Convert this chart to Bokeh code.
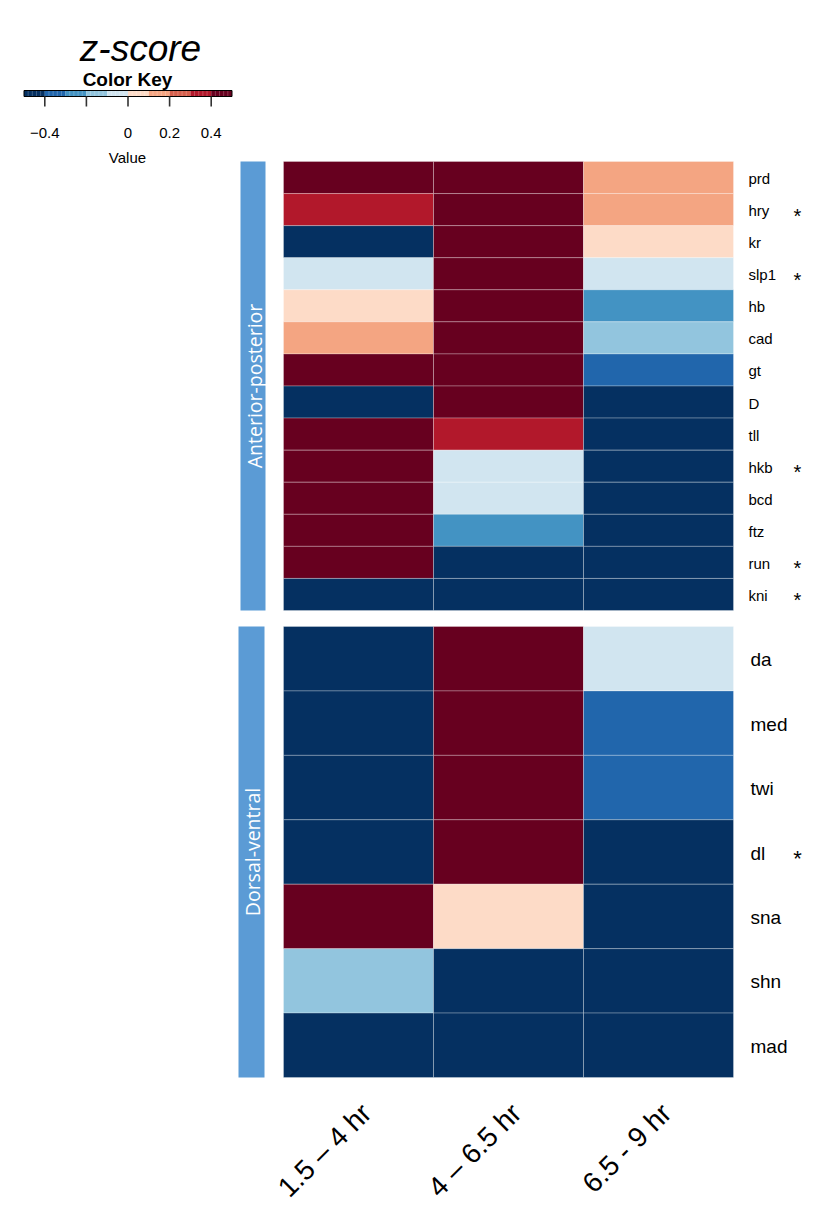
import numpy as np
from bokeh.plotting import figure
from bokeh.models import Range1d, ColumnDataSource, LinearColorMapper
from bokeh.core.properties import value
from bokeh.embed import file_html
from bokeh.resources import INLINE

# ---------------- data ----------------
time_windows = ["1.5 – 4 hr", "4 – 6.5 hr", "6.5 - 9 hr"]

ap_genes = ["prd", "hry", "kr", "slp1", "hb", "cad", "gt", "D", "tll", "hkb", "bcd", "ftz", "run", "kni"]
ap_sig = ["", "*", "", "*", "", "", "", "", "", "*", "", "", "*", "*"]
ap_t1 = [0.47, 0.36, -0.48, -0.06, 0.04, 0.16, 0.46, -0.47, 0.48, 0.47, 0.46, 0.45, 0.47, -0.48]
ap_t2 = [0.48, 0.47, 0.46, 0.48, 0.47, 0.46, 0.45, 0.47, 0.34, -0.05, -0.04, -0.26, -0.47, -0.46]
ap_t3 = [0.14, 0.13, 0.04, -0.06, -0.24, -0.16, -0.34, -0.47, -0.48, -0.47, -0.46, -0.47, -0.48, -0.47]

dv_genes = ["da", "med", "twi", "dl", "sna", "shn", "mad"]
dv_sig = ["", "", "", "*", "", "", ""]
dv_t1 = [-0.47, -0.48, -0.46, -0.47, 0.46, -0.15, -0.48]
dv_t2 = [0.47, 0.48, 0.46, 0.47, 0.05, -0.46, -0.47]
dv_t3 = [-0.05, -0.35, -0.36, -0.47, -0.48, -0.47, -0.48]

group_names = ["Anterior-posterior", "Dorsal-ventral"]

key_low, key_high = -0.5, 0.5
key_ticks = [-0.4, -0.2, 0.0, 0.2, 0.4]
key_tick_labels = ["\u22120.4", "", "0", "0.2", "0.4"]

palette = ['#053061', '#2166ac', '#4393c3', '#92c5de', '#d1e5f0',
           '#fddbc7', '#f4a582', '#d6604d', '#b2182b', '#67001f']

# ---------------- geometry (canvas px) ----------------
W, H = 821, 1230
HM_LEFT, COL_W = 283, 150.0
AP_TOP, AP_ROW = 161, 449.0 / 14
DV_TOP, DV_ROW = 626, 451.0 / 7
KEY_LEFT, KEY_SCALE = 23.5, 208.0

FONT = value("Liberation Sans")

p = figure(width=W, height=H, output_backend="svg", toolbar_location=None,
           x_range=Range1d(0, W), y_range=Range1d(H, 0),
           x_axis_type=None, y_axis_type=None, min_border=0,
           outline_line_color=None, background_fill_color="white", border_fill_color="white")
p.xgrid.visible = False
p.ygrid.visible = False

p.extra_x_ranges = {
    "hm": Range1d(-HM_LEFT / COL_W, (W - HM_LEFT) / COL_W),
    "key": Range1d(key_low - KEY_LEFT / KEY_SCALE, key_low + (W - KEY_LEFT) / KEY_SCALE),
}
p.extra_y_ranges = {
    "ap": Range1d((H - AP_TOP) / AP_ROW, -AP_TOP / AP_ROW),
    "dv": Range1d((H - DV_TOP) / DV_ROW, -DV_TOP / DV_ROW),
}

mapper = LinearColorMapper(palette=palette, low=key_low, high=key_high)


def heat_source(genes, cols_vals):
    xs, ys, vs = [], [], []
    for ci, vals in enumerate(cols_vals):
        for ri, v in enumerate(vals):
            xs.append(ci + 0.5)
            ys.append(ri + 0.5)
            vs.append(v)
    return ColumnDataSource(dict(x=xs, y=ys, v=vs))


for name, genes, sig, vals, fsize, ssize, lab_off, bar_lr in [
    ("ap", ap_genes, ap_sig, [ap_t1, ap_t2, ap_t3], "15px", "20px", 15, (240, 265)),
    ("dv", dv_genes, dv_sig, [dv_t1, dv_t2, dv_t3], "19px", "22px", 17, (238, 264)),
]:
    src = heat_source(genes, vals)
    p.rect(x="x", y="y", width=1, height=1, source=src,
           fill_color={"field": "v", "transform": mapper},
           line_color="white", line_alpha=0.28, line_width=1,
           x_range_name="hm", y_range_name=name)
    n = len(genes)
    lab = ColumnDataSource(dict(x=[3.0] * n, y=[i + 0.5 for i in range(n)], g=genes, s=sig))
    p.text(x="x", y="y", text="g", source=lab, x_offset=lab_off, y_offset=1,
           text_font=FONT, text_font_size=fsize, text_baseline="middle", text_align="left",
           text_color="black", x_range_name="hm", y_range_name=name)
    p.text(x="x", y="y", text="s", source=lab, x_offset=64, y_offset=6,
           text_font=FONT, text_font_size=ssize, text_baseline="middle", text_align="center",
           text_color="black", x_range_name="hm", y_range_name=name)
    # side bar
    p.quad(left=[bar_lr[0]], right=[bar_lr[1]], top=[0], bottom=[n],
           fill_color="#5b9bd5", line_color=None, y_range_name=name)
    p.text(x=[(bar_lr[0] + bar_lr[1]) / 2 + 1], y=[n / 2],
           text=[group_names[0] if name == "ap" else group_names[1]],
           angle=np.pi / 2, text_align="center", text_baseline="middle",
           text_font=value("Open Sans"), text_font_size="19.5px", text_color="white",
           y_range_name=name)

# x labels
p.text(x=[i + 0.5 for i in range(len(time_windows))], y=[1108] * len(time_windows),
       text=time_windows, angle=np.pi / 4, x_offset=8,
       text_align="right", text_baseline="middle",
       text_font=FONT, text_font_size="28px", text_color="black", x_range_name="hm")

# ---------------- color key ----------------
edges = np.linspace(key_low, key_high, len(palette) + 1)
p.quad(left=edges[:-1], right=edges[1:], top=[90] * len(palette), bottom=[96] * len(palette),
       fill_color=palette, line_color=None, x_range_name="key")
sub = [round(v, 2) for v in np.arange(key_low + 0.02, key_high, 0.02)]
sub = [v for v in sub if abs(round(v * 10) - v * 10) > 1e-6]
p.segment(x0=sub, x1=sub, y0=[90.5] * len(sub), y1=[95.5] * len(sub),
          line_color="white", line_alpha=0.22, line_width=1, x_range_name="key")
p.quad(left=[key_low], right=[key_high], top=[90], bottom=[96],
       fill_color=None, line_color="black", line_width=1, x_range_name="key")
p.segment(x0=key_ticks, x1=key_ticks, y0=[96] * len(key_ticks), y1=[106] * len(key_ticks),
          line_color="#333333", line_width=1.6, x_range_name="key")
p.text(x=key_ticks, y=[132] * len(key_ticks), text=key_tick_labels,
       text_align="center", text_baseline="alphabetic",
       text_font=FONT, text_font_size="15px", text_color="black", x_range_name="key")

p.text(x=[140], y=[48], text=["z-score"], text_align="center", text_baseline="alphabetic",
       text_font=FONT, text_font_style="italic", text_font_size="37px", text_color="black")
p.text(x=[127], y=[78.5], text=["Color Key"], text_align="center", text_baseline="alphabetic",
       text_font=FONT, text_font_style="bold", text_font_size="19px", text_color="black")
p.text(x=[127], y=[157], text=["Value"], text_align="center", text_baseline="alphabetic",
       text_font=FONT, text_font_size="15px", text_color="black")

open("out.html", "w").write(file_html(p, INLINE))
